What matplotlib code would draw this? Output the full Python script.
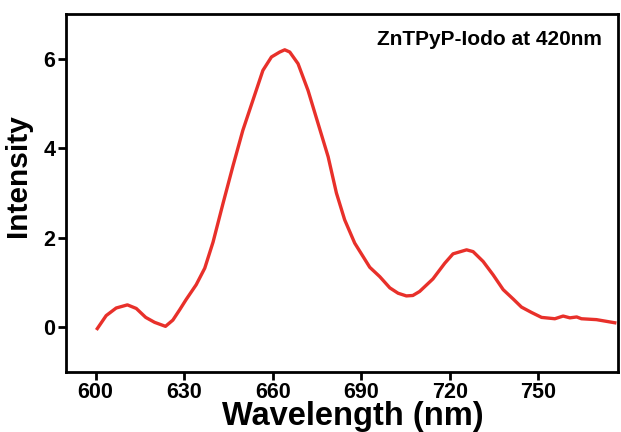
import matplotlib.pyplot as plt

# emission spectrum, excitation at 420 nm
wavelength = [600.6, 603.6, 607.0, 610.8, 613.8, 617.0, 620.0, 623.7, 626.2, 628.5,
              630.7, 634.1, 637.0, 639.8, 643.2, 646.5, 649.9, 653.3, 656.7, 659.6,
              662.4, 664.1, 665.8, 668.6, 672.0, 675.4, 678.8, 681.6, 684.4, 687.8,
              692.9, 696.3, 699.7, 702.5, 705.3, 707.5, 709.8, 714.3, 718.3, 721.1,
              725.7, 727.9, 731.3, 734.7, 738.1, 741.5, 744.3, 747.7, 751.1, 755.6,
              758.4, 760.7, 763.0, 764.6, 769.7, 775.9]
intensity = [-0.03, 0.26, 0.43, 0.50, 0.42, 0.22, 0.11, 0.02, 0.16, 0.39,
             0.62, 0.95, 1.32, 1.90, 2.77, 3.59, 4.40, 5.07, 5.74, 6.04,
             6.15, 6.20, 6.15, 5.89, 5.29, 4.55, 3.81, 3.00, 2.40, 1.88,
             1.34, 1.13, 0.88, 0.76, 0.70, 0.71, 0.80, 1.08, 1.43, 1.64,
             1.73, 1.69, 1.47, 1.17, 0.84, 0.63, 0.45, 0.33, 0.22, 0.19,
             0.25, 0.21, 0.23, 0.19, 0.17, 0.10]

xticks = [600, 630, 660, 690, 720, 750]
yticks = [0, 2, 4, 6]

plt.rcParams['font.family'] = ['Liberation Sans', 'DejaVu Sans']
plt.rcParams['font.weight'] = 'bold'

fig = plt.figure(figsize=(6.21, 4.32), dpi=100)
ax = fig.add_axes([0.1063, 0.1389, 0.8889, 0.8287])

ax.plot(wavelength, intensity, color='#e8302a', lw=2.4, solid_joinstyle='round')

ax.set_xlim(590, 777)
ax.set_ylim(-1, 7)
ax.set_xticks(xticks)
ax.set_yticks(yticks)
ax.tick_params(direction='out', length=6, width=2, labelsize=15.5, pad=1.5)
for lab in ax.get_xticklabels() + ax.get_yticklabels():
    lab.set_fontweight('bold')
for s in ax.spines.values():
    s.set_linewidth(2)

ax.set_xlabel('Wavelength (nm)', fontsize=23.5, fontweight='bold')
ax.xaxis.set_label_coords(0.52, -0.082)
ax.xaxis.label.set_va('top')
ax.set_ylabel('Intensity', fontsize=21.5, fontweight='bold')
ax.yaxis.set_label_coords(-0.062, 0.55)
ax.text(0.97, 0.93, 'ZnTPyP-Iodo at 420nm', transform=ax.transAxes,
        ha='right', va='center', fontsize=15, fontweight='bold')

fig.savefig('out.png', dpi=100)
